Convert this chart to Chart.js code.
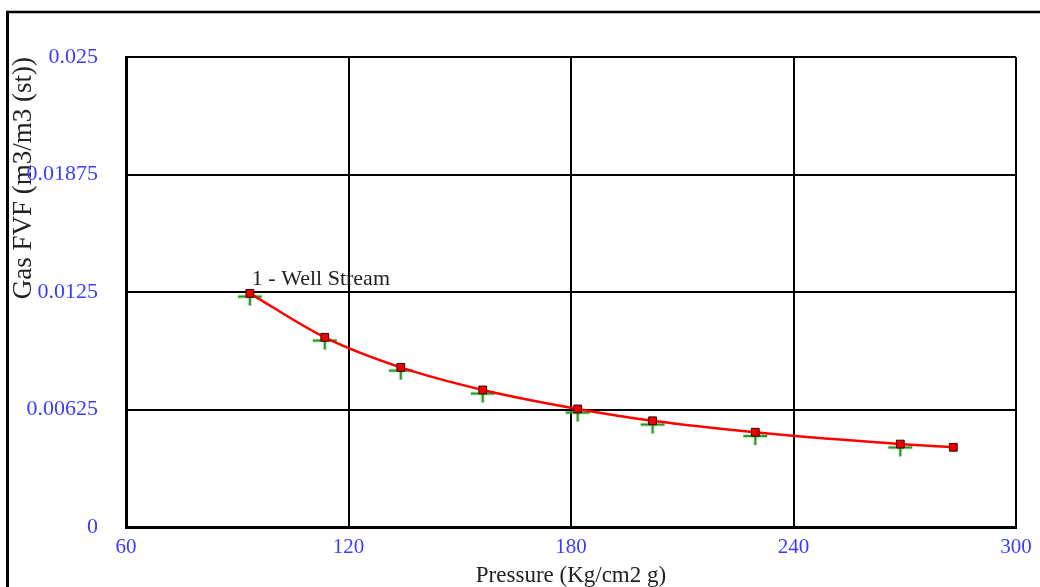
<!DOCTYPE html>
<html>
<head>
<meta charset="utf-8">
<script src="https://cdn.jsdelivr.net/npm/chart.js@4/dist/chart.umd.min.js"></script>
<style>
  html, body { margin: 0; padding: 0; background: #fff; }
  canvas { display: block; }
</style>
</head>
<body>
<canvas id="fvf" width="1040" height="587"></canvas>
<script>
// calculated curve (red squares)
const pressure = [93.4, 113.6, 134.1, 156.2, 181.8, 202.0, 229.7, 268.8, 283.1];
const gasFvf = [0.01243, 0.01009, 0.00849, 0.00729, 0.00628, 0.00565, 0.00504, 0.00441, 0.00424];

// measured points (green crosses)
const pressureMeas = [93.4, 113.6, 134.1, 156.2, 181.8, 202.0, 229.7, 268.8];
const gasFvfMeas = [0.01226, 0.00992, 0.00832, 0.00710, 0.00609, 0.00545, 0.00484, 0.00423];

const xTickLabels = ['60', '120', '180', '240', '300'];
const yTickLabels = ['0', '0.00625', '0.0125', '0.01875', '0.025'];

const seriesLabel = '1 - Well Stream';
const xTitle = 'Pressure (Kg/cm2 g)';
const yTitle = 'Gas FVF (m3/m3 (st))';

const serif = 'Liberation Serif';
const tickBlue = '#3c3cff';

// green cross marker, wider than it is tall
function crossMarker() {
  const c = document.createElement('canvas');
  c.width = 26;
  c.height = 20;
  const g = c.getContext('2d');
  g.strokeStyle = '#259a25';
  g.lineWidth = 2.5;
  g.beginPath();
  g.moveTo(1, 10);
  g.lineTo(25, 10);
  g.moveTo(13, 5);
  g.lineTo(13, 19);
  g.stroke();
  return c;
}

const framePlugin = {
  id: 'frame',
  beforeDraw(chart) {
    const ctx = chart.ctx;
    ctx.save();
    ctx.fillStyle = '#fff';
    ctx.fillRect(0, 0, chart.width, chart.height);
    ctx.strokeStyle = '#000';
    ctx.lineWidth = 3;
    ctx.beginPath();
    ctx.moveTo(7.5, 11);
    ctx.lineTo(7.5, chart.height);
    ctx.stroke();
    ctx.lineWidth = 2.5;
    ctx.beginPath();
    ctx.moveTo(6, 12);
    ctx.lineTo(chart.width, 12);
    ctx.stroke();
    ctx.restore();
  }
};

const seriesLabelPlugin = {
  id: 'seriesLabel',
  afterDatasetsDraw(chart) {
    const ctx = chart.ctx;
    const x = chart.scales.x.getPixelForValue(pressure[0]);
    const y = chart.scales.y.getPixelForValue(gasFvf[0]);
    ctx.save();
    ctx.font = '22px "' + serif + '"';
    ctx.fillStyle = '#222';
    ctx.textAlign = 'left';
    ctx.textBaseline = 'middle';
    ctx.fillText(seriesLabel, x + 2, y - 14);
    ctx.restore();
  }
};

const ctx = document.getElementById('fvf').getContext('2d');

new Chart(ctx, {
  type: 'line',
  data: {
    datasets: [
      {
        label: seriesLabel,
        data: pressure.map((p, i) => ({ x: p, y: gasFvf[i] })),
        borderColor: '#ff0000',
        borderWidth: 2.5,
        cubicInterpolationMode: 'monotone',
        pointStyle: 'rect',
        pointRadius: 5.5,
        pointBackgroundColor: '#ee0000',
        pointBorderColor: '#3a0000',
        pointBorderWidth: 1,
        order: 0
      },
      {
        label: 'measured',
        data: pressureMeas.map((p, i) => ({ x: p, y: gasFvfMeas[i] })),
        showLine: false,
        pointStyle: crossMarker(),
        order: 1
      }
    ]
  },
  options: {
    responsive: false,
    animation: false,
    layout: {
      padding: { left: 8, right: 24, top: 57, bottom: 0 }
    },
    plugins: {
      legend: { display: false },
      tooltip: { enabled: false }
    },
    scales: {
      x: {
        type: 'linear',
        min: 60,
        max: 300,
        afterFit(scale) { scale.height = 60; },
        afterBuildTicks(scale) {
          scale.ticks = xTickLabels.map(v => ({ value: Number(v) }));
        },
        ticks: {
          autoSkip: false,
          maxRotation: 0,
          padding: 8,
          color: tickBlue,
          font: { family: serif, size: 21 },
          callback: (v, i) => xTickLabels[i]
        },
        grid: { color: '#000', lineWidth: 2, drawTicks: false },
        border: { color: '#000', width: 3 },
        title: {
          display: true,
          text: xTitle,
          color: '#222',
          font: { family: serif, size: 23, lineHeight: 1 },
          padding: { top: 0, bottom: 0 }
        }
      },
      y: {
        min: 0,
        max: 0.025,
        afterFit(scale) { scale.width = 118; },
        afterBuildTicks(scale) {
          scale.ticks = yTickLabels.map(v => ({ value: Number(v) }));
        },
        ticks: {
          autoSkip: false,
          padding: 28,
          color: tickBlue,
          font: { family: serif, size: 22 },
          callback: (v, i) => yTickLabels[i]
        },
        grid: { color: '#000', lineWidth: 2, drawTicks: false },
        border: { color: '#000', width: 3 },
        title: {
          display: true,
          text: yTitle,
          align: 'end',
          color: '#222',
          font: { family: serif, size: 27 },
          padding: { top: 0, bottom: 0 }
        }
      }
    }
  },
  plugins: [framePlugin, seriesLabelPlugin]
});
</script>
</body>
</html>
